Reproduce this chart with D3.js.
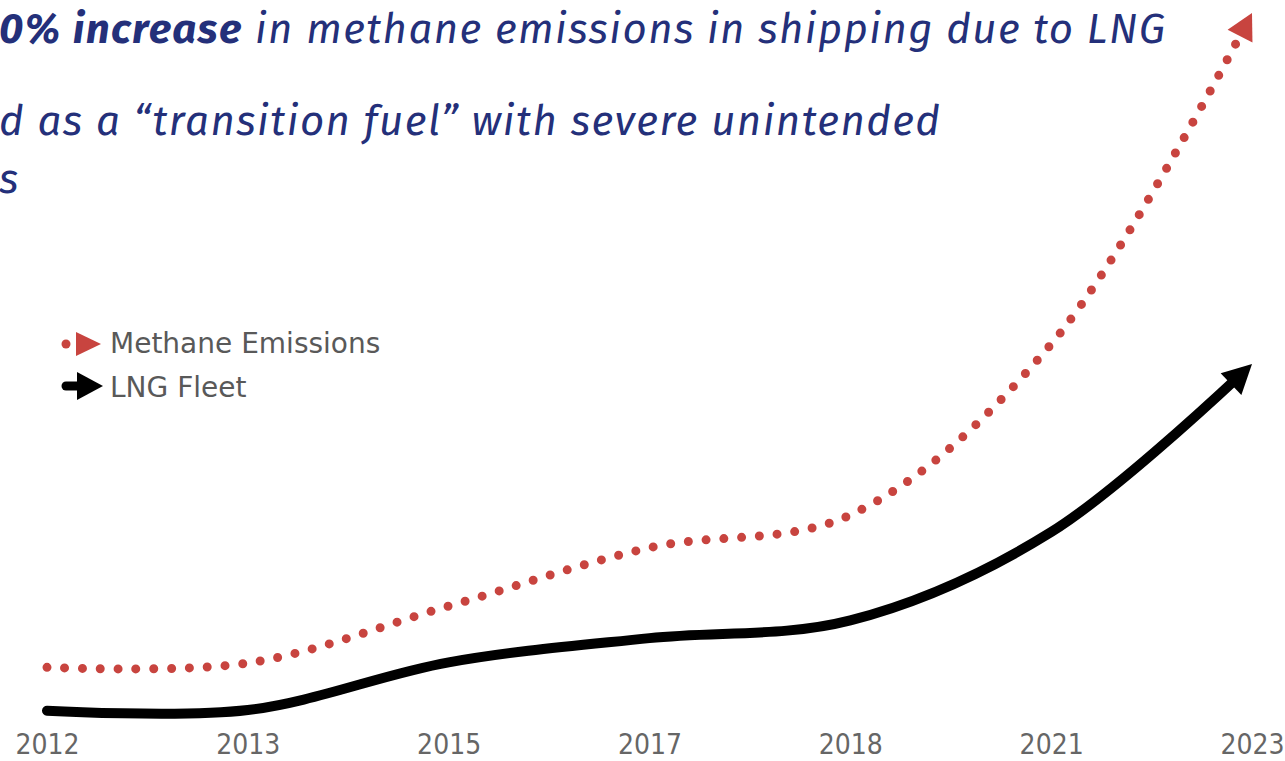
<!DOCTYPE html>
<html>
<head>
<meta charset="utf-8">
<script src="https://cdn.jsdelivr.net/npm/d3@7"></script>
<style>
  body { margin: 0; background: #fff; overflow: hidden; }
  #lineContainer { width: 1285px; height: 761px; }
</style>
</head>
<body>
<div id="lineContainer"></div>
<script>
// data (index, arbitrary units)
var years = ["2012", "2013", "2015", "2017", "2018", "2021", "2023"];
var methaneValues = [8.1, 8.7, 16.7, 24.9, 29.5, 53.5, 100];
var fleetValues = [2.0, 2.1, 8.8, 12.2, 14.7, 27.1, 50.7];
var seriesNames = ["Methane Emissions", "LNG Fleet"];

var titleBold = "0% increase";
var titleRest = " in methane emissions in shipping due to LNG";
var titleLine2 = "d as a \u201ctransition fuel\u201d with severe unintended";
var titleLine3 = "s";

var width = document.getElementById("lineContainer").clientWidth;
var height = document.getElementById("lineContainer").clientHeight;

var svg = d3.select("#lineContainer")
    .append("svg")
    .attr("width", width)
    .attr("height", height);

var red = "#c8443f";
var navy = "#24307a";

/////////////////////  markers /////////////////////////////////////////
var defs = svg.append("defs");

defs.append("marker")
    .attr("id", "redHead")
    .attr("markerUnits", "userSpaceOnUse")
    .attr("viewBox", "-40 -20 50 40")
    .attr("refX", 0).attr("refY", 0)
    .attr("markerWidth", 50).attr("markerHeight", 40)
    .attr("orient", "auto")
    .style("overflow", "visible")
  .append("path")
    .attr("d", "M0,0L-26,-14L-26,14Z")
    .attr("fill", red);

defs.append("marker")
    .attr("id", "blackHead")
    .attr("markerUnits", "userSpaceOnUse")
    .attr("viewBox", "-40 -20 50 40")
    .attr("refX", 0).attr("refY", 0)
    .attr("markerWidth", 50).attr("markerHeight", 40)
    .attr("orient", "auto")
    .style("overflow", "visible")
  .append("path")
    .attr("d", "M0,0L-29,-15L-29,15Z")
    .attr("fill", "#000");

/////////////////////  title /////////////////////////////////////////
var title = svg.append("g")
    .attr("font-family", "'Fira Sans', 'Open Sans', sans-serif")
    .attr("font-style", "italic")
    .attr("font-size", 42)
    .attr("fill", navy);

var t1 = title.append("text")
    .attr("x", -1).attr("y", 43)
    .attr("textLength", 1166);
t1.append("tspan").attr("font-weight", "bold").text(titleBold);
t1.append("tspan").text(titleRest);

title.append("text")
    .attr("x", -1).attr("y", 135)
    .attr("textLength", 941)
    .text(titleLine2);

title.append("text")
    .attr("x", -1).attr("y", 193)
    .text(titleLine3);

/////////////////////  scales /////////////////////////////////////////
var x = d3.scalePoint()
    .domain(years)
    .range([47, 1252]);

var y = d3.scaleLinear()
    .domain([0, 100])
    .range([725, 13]);

var line = d3.line()
    .x(function(d) { return x(d.key); })
    .y(function(d) { return y(d.value); })
    .curve(d3.curveCatmullRom);

var methaneData = years.map(function(k, i) { return {key: k, value: methaneValues[i]}; });
var fleetData = years.map(function(k, i) { return {key: k, value: fleetValues[i]}; });

/////////////////////  axis /////////////////////////////////////////
var xAxis = d3.axisBottom(x).tickSize(0).tickPadding(0);

var axisG = svg.append("g")
    .attr("transform", "translate(0,754)")
    .call(xAxis);
axisG.select(".domain").remove();
axisG.selectAll("text")
    .attr("y", 0)
    .attr("dy", 0)
    .attr("fill", "#666")
    .attr("font-family", "'Century Gothic', 'DejaVu Sans Condensed', 'DejaVu Sans', sans-serif")
    .attr("font-stretch", "condensed")
    .attr("font-size", 28);

/////////////////////  lines /////////////////////////////////////////
var fleetPath = svg.append("path")
    .datum(fleetData)
    .attr("d", line)
    .attr("fill", "none")
    .attr("stroke", "#000")
    .attr("stroke-width", 10)
    .attr("stroke-linecap", "round")
    .attr("marker-end", "url(#blackHead)");

// stop the thick stroke before the arrow tip
var L = fleetPath.node().getTotalLength();
fleetPath.attr("stroke-dasharray", (L - 16) + " 200");

svg.append("path")
    .datum(methaneData)
    .attr("d", line)
    .attr("fill", "none")
    .attr("stroke", red)
    .attr("stroke-width", 9)
    .attr("stroke-linecap", "round")
    .attr("stroke-dasharray", "0 17.8")
    .attr("marker-end", "url(#redHead)");

/////////////////////  legend /////////////////////////////////////////
var legend = svg.append("g");

legend.append("circle")
    .attr("cx", 66).attr("cy", 344).attr("r", 4.5)
    .attr("fill", red);
legend.append("path")
    .attr("d", "M76,332L101,344L76,356Z")
    .attr("fill", red);

legend.append("line")
    .attr("x1", 66).attr("x2", 82)
    .attr("y1", 386).attr("y2", 386)
    .attr("stroke", "#000")
    .attr("stroke-width", 9)
    .attr("stroke-linecap", "round");
legend.append("path")
    .attr("d", "M77,372L103,386L77,400Z")
    .attr("fill", "#000");

legend.selectAll(".legendText")
    .data(seriesNames)
    .enter()
    .append("text")
    .attr("class", "legendText")
    .attr("x", 110)
    .attr("y", function(d, i) { return 353 + i * 44; })
    .attr("fill", "#595959")
    .attr("font-family", "'Century Gothic', 'DejaVu Sans', sans-serif")
    .attr("font-size", 28)
    .text(function(d) { return d; });
</script>
</body>
</html>
